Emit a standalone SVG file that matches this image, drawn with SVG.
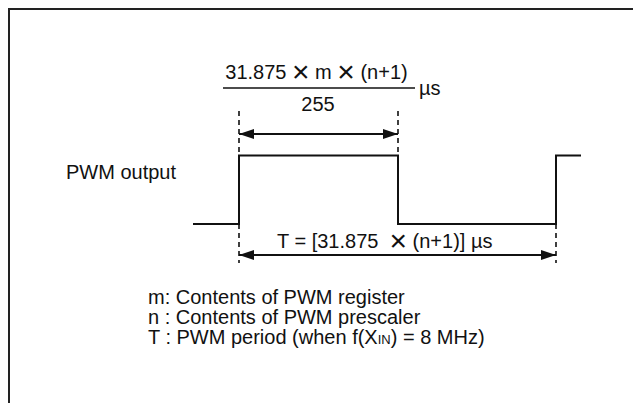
<svg xmlns="http://www.w3.org/2000/svg" width="633" height="403" viewBox="0 0 633 403">
<style>
text{font-family:"Liberation Sans",Arial,sans-serif;font-size:20px;fill:#111}
.w{fill:none;stroke:#111;stroke-width:2}
.d{fill:none;stroke:#111;stroke-width:1.6;stroke-dasharray:5 4}
.a{fill:none;stroke:#111;stroke-width:2}
.big{font-size:30px}
.sub{font-size:13px}
</style>
<defs>
<marker id="ah" viewBox="0 0 15 10" refX="15" refY="5" markerWidth="15" markerHeight="10" markerUnits="userSpaceOnUse" orient="auto-start-reverse">
<path d="M0,0 L15,5 L0,10 Z" fill="#111"/>
</marker>
</defs>
<rect x="0" y="0" width="633" height="403" fill="#fff"/>
<path d="M9,403 V9 H633" fill="none" stroke="#222" stroke-width="2"/>
<g id="formula-top">
<text x="316.5" y="79" text-anchor="middle">31.875 <tspan class="big" dy="3">×</tspan><tspan dy="-3"> m </tspan><tspan class="big" dy="3">×</tspan><tspan dy="-3"> (n+1)</tspan></text>
<line x1="223" y1="88" x2="415" y2="88" stroke="#111" stroke-width="1.6"/>
<text x="318" y="111" text-anchor="middle">255</text>
<text x="419" y="95">µs</text>
</g>
<g id="pwm-label"><text x="66" y="179">PWM output</text></g>
<g id="waveform">
<path class="w" d="M193,224 H239 V155.5 H398 V224 H556 V155.5 H581"/>
</g>
<g id="connectors">
<path class="d" d="M239,111 V155"/>
<path class="d" d="M398,111 V155"/>
<path class="d" d="M239,224 V263"/>
<path class="d" d="M556,224 V263"/>
<line class="a" x1="239" y1="134" x2="398" y2="134" marker-start="url(#ah)" marker-end="url(#ah)"/>
<line class="a" x1="239" y1="255" x2="556" y2="255" marker-start="url(#ah)" marker-end="url(#ah)"/>
</g>
<g id="period-label"><text x="277" y="248">T = [31.875&#160; <tspan class="big" dy="3">×</tspan><tspan dy="-3"> (n+1)]&#160;µs</tspan></text></g>
<g id="legend">
<text x="148" y="304">m: Contents of PWM register</text>
<text x="148" y="324">n : Contents of PWM prescaler</text>
<text x="148" y="344">T : PWM period (when f(X<tspan class="sub">IN</tspan>) = 8 MHz)</text>
</g>
</svg>
